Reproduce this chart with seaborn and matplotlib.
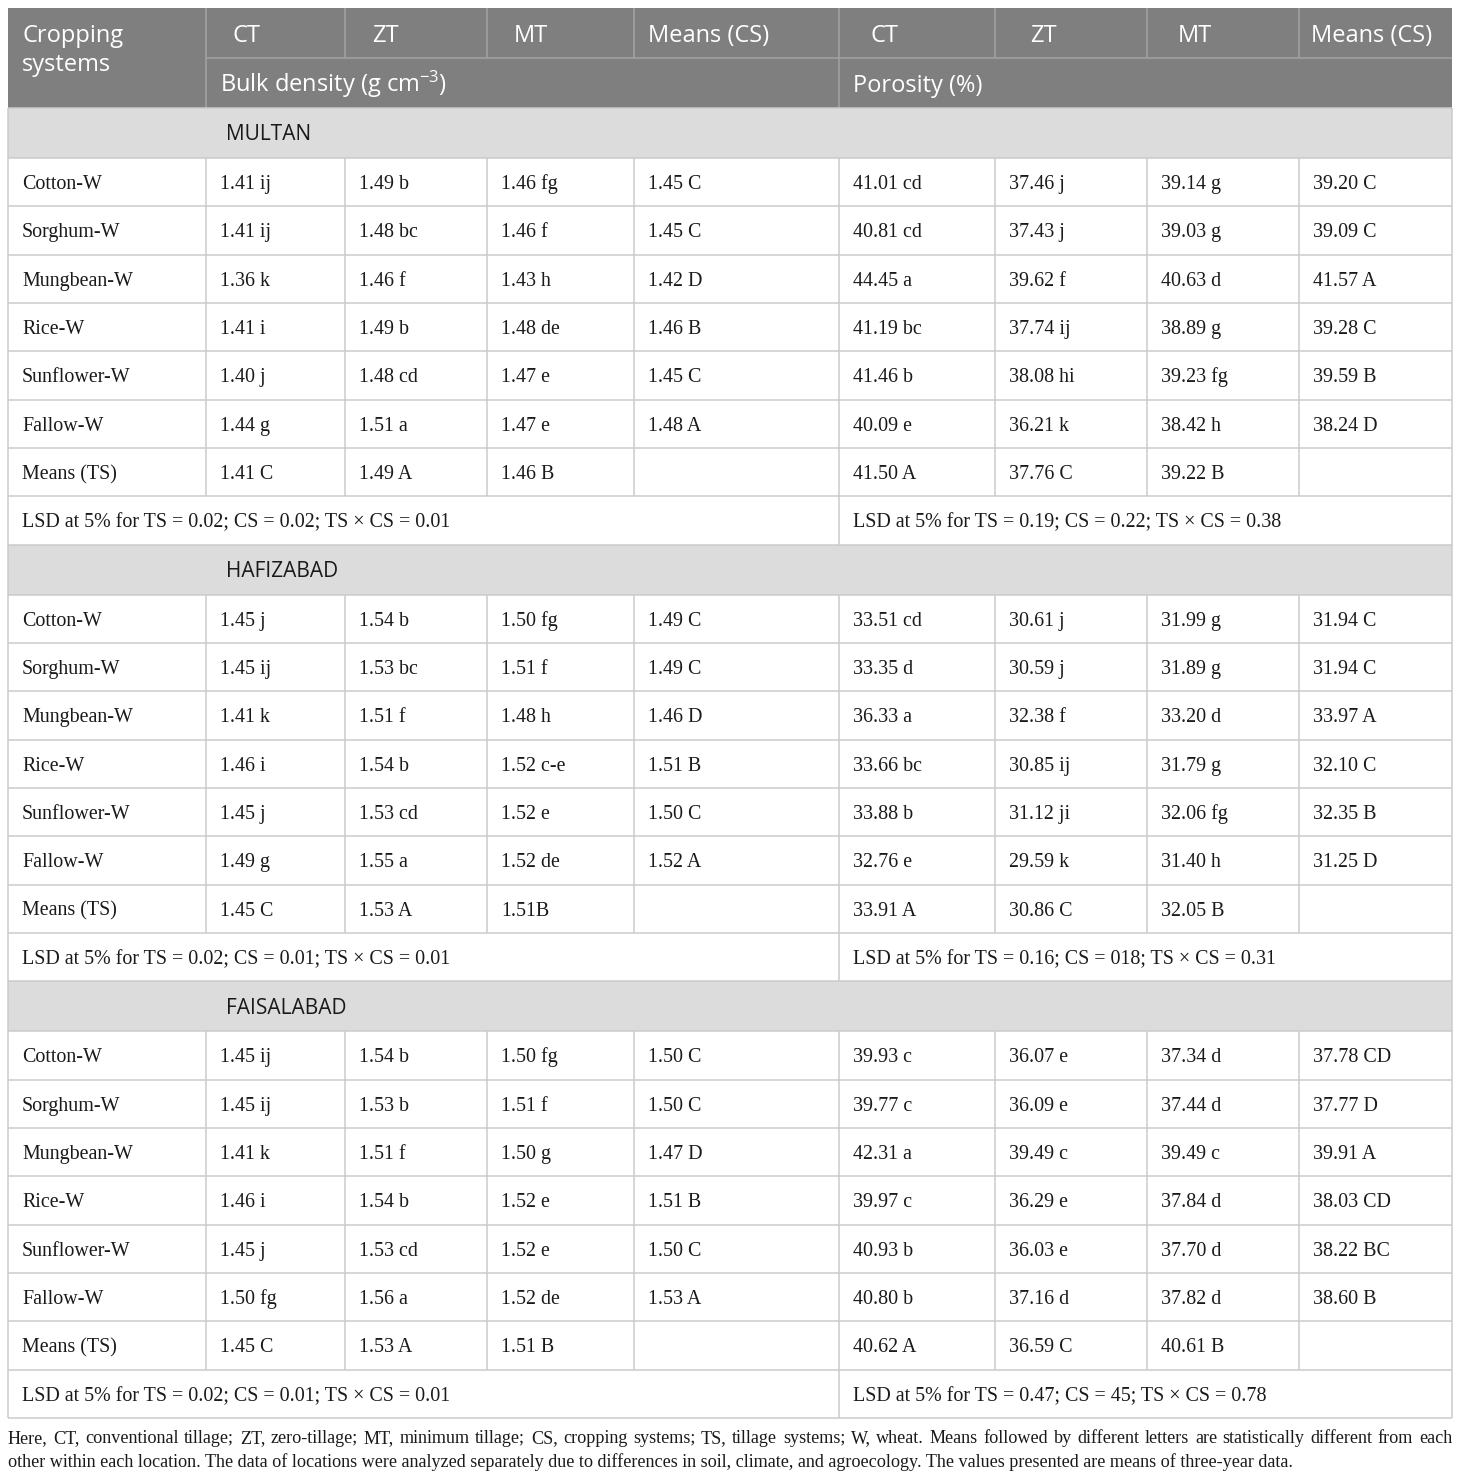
import matplotlib.pyplot as plt
import seaborn as sns
from matplotlib.patches import Rectangle

sns.set_theme(style="white")
plt.rcParams["font.family"] = ["Liberation Serif", "DejaVu Serif"]
plt.rcParams["mathtext.fontset"] = "custom"
plt.rcParams["mathtext.rm"] = "Open Sans"
plt.rcParams["mathtext.default"] = "regular"

# table content
tillage = ["CT", "ZT", "MT", "Means (CS)"]
props = ["Bulk density (g cm$^{\u22123}$)", "Porosity (%)"]
crops = ["Cotton-W", "Sorghum-W", "Mungbean-W", "Rice-W", "Sunflower-W", "Fallow-W", "Means (TS)"]
locations = ["MULTAN", "HAFIZABAD", "FAISALABAD"]

multan_bd = [["1.41 ij", "1.49 b", "1.46 fg", "1.45 C"],
             ["1.41 ij", "1.48 bc", "1.46 f", "1.45 C"],
             ["1.36 k", "1.46 f", "1.43 h", "1.42 D"],
             ["1.41 i", "1.49 b", "1.48 de", "1.46 B"],
             ["1.40 j", "1.48 cd", "1.47 e", "1.45 C"],
             ["1.44 g", "1.51 a", "1.47 e", "1.48 A"],
             ["1.41 C", "1.49 A", "1.46 B", ""]]
multan_por = [["41.01 cd", "37.46 j", "39.14 g", "39.20 C"],
              ["40.81 cd", "37.43 j", "39.03 g", "39.09 C"],
              ["44.45 a", "39.62 f", "40.63 d", "41.57 A"],
              ["41.19 bc", "37.74 ij", "38.89 g", "39.28 C"],
              ["41.46 b", "38.08 hi", "39.23 fg", "39.59 B"],
              ["40.09 e", "36.21 k", "38.42 h", "38.24 D"],
              ["41.50 A", "37.76 C", "39.22 B", ""]]
multan_lsd = ["LSD at 5% for TS = 0.02; CS = 0.02; TS \u00d7 CS = 0.01",
              "LSD at 5% for TS = 0.19; CS = 0.22; TS \u00d7 CS = 0.38"]

hafizabad_bd = [["1.45 j", "1.54 b", "1.50 fg", "1.49 C"],
                ["1.45 ij", "1.53 bc", "1.51 f", "1.49 C"],
                ["1.41 k", "1.51 f", "1.48 h", "1.46 D"],
                ["1.46 i", "1.54 b", "1.52 c-e", "1.51 B"],
                ["1.45 j", "1.53 cd", "1.52 e", "1.50 C"],
                ["1.49 g", "1.55 a", "1.52 de", "1.52 A"],
                ["1.45 C", "1.53 A", "1.51B", ""]]
hafizabad_por = [["33.51 cd", "30.61 j", "31.99 g", "31.94 C"],
                 ["33.35 d", "30.59 j", "31.89 g", "31.94 C"],
                 ["36.33 a", "32.38 f", "33.20 d", "33.97 A"],
                 ["33.66 bc", "30.85 ij", "31.79 g", "32.10 C"],
                 ["33.88 b", "31.12 ji", "32.06 fg", "32.35 B"],
                 ["32.76 e", "29.59 k", "31.40 h", "31.25 D"],
                 ["33.91 A", "30.86 C", "32.05 B", ""]]
hafizabad_lsd = ["LSD at 5% for TS = 0.02; CS = 0.01; TS \u00d7 CS = 0.01",
                 "LSD at 5% for TS = 0.16; CS = 018; TS \u00d7 CS = 0.31"]

faisalabad_bd = [["1.45 ij", "1.54 b", "1.50 fg", "1.50 C"],
                 ["1.45 ij", "1.53 b", "1.51 f", "1.50 C"],
                 ["1.41 k", "1.51 f", "1.50 g", "1.47 D"],
                 ["1.46 i", "1.54 b", "1.52 e", "1.51 B"],
                 ["1.45 j", "1.53 cd", "1.52 e", "1.50 C"],
                 ["1.50 fg", "1.56 a", "1.52 de", "1.53 A"],
                 ["1.45 C", "1.53 A", "1.51 B", ""]]
faisalabad_por = [["39.93 c", "36.07 e", "37.34 d", "37.78 CD"],
                  ["39.77 c", "36.09 e", "37.44 d", "37.77 D"],
                  ["42.31 a", "39.49 c", "39.49 c", "39.91 A"],
                  ["39.97 c", "36.29 e", "37.84 d", "38.03 CD"],
                  ["40.93 b", "36.03 e", "37.70 d", "38.22 BC"],
                  ["40.80 b", "37.16 d", "37.82 d", "38.60 B"],
                  ["40.62 A", "36.59 C", "40.61 B", ""]]
faisalabad_lsd = ["LSD at 5% for TS = 0.02; CS = 0.01; TS \u00d7 CS = 0.01",
                  "LSD at 5% for TS = 0.47; CS = 45; TS \u00d7 CS = 0.78"]

footnote = ("Here, CT, conventional tillage; ZT, zero-tillage; MT, minimum tillage; CS, cropping systems; "
            "TS, tillage systems; W, wheat. Means followed by different letters are statistically different from each",
            "other within each location. The data of locations were analyzed separately due to differences in soil, "
            "climate, and agroecology. The values presented are means of three-year data.")

bd_tables = [multan_bd, hafizabad_bd, faisalabad_bd]
por_tables = [multan_por, hafizabad_por, faisalabad_por]
lsd_rows = [multan_lsd, hafizabad_lsd, faisalabad_lsd]

# layout (pixels)
W, H = 1460, 1480
col_x = [8, 206, 345, 487, 634, 839, 995, 1147, 1299, 1452]
left, right = col_x[0], col_x[-1]
top = 8
h_head = 50
h_sec = 50
h_row = 48.33
head_bg = "#7f7f7f"
head_line = "#a3a3a3"
sec_bg = "#dcdcdc"
grid = "#cbcbcb"
ink = "#1a1a1a"
sans = ["Open Sans", "DejaVu Sans"]
serif_size = 14.4
foot_size = 13.1

fig = plt.figure(figsize=(W / 100, H / 100), dpi=100)
ax = fig.add_axes([0, 0, 1, 1])
ax.set_xlim(0, W)
ax.set_ylim(H, 0)
ax.axis("off")


def hline(y, x0=left, x1=right, c=grid):
    ax.plot([x0, x1], [y, y], color=c, lw=1.1, solid_capstyle="butt")


def vline(x, y0, y1, c=grid):
    ax.plot([x, x], [y0, y1], color=c, lw=1.1, solid_capstyle="butt")


def cell_text(x, y0, h, s):
    # baseline placed so the cap height is centred in the row
    ax.text(x, y0 + h / 2 + 7, s, fontsize=serif_size, color=ink, va="baseline", ha="left")


# header
ax.add_patch(Rectangle((left, top), right - left, 2 * h_head, color=head_bg, lw=0))
y_mid = top + h_head
hline(y_mid, col_x[1], right, head_line)
vline(col_x[1], top, top + 2 * h_head, head_line)
vline(col_x[5], top, top + 2 * h_head, head_line)
for j in [2, 3, 4, 6, 7, 8]:
    vline(col_x[j], top, y_mid, head_line)
ax.text(left + 14, top + 34, "Cropping", family=sans, fontsize=17, color="white", va="baseline")
ax.text(left + 14, top + 63, "systems", family=sans, fontsize=17, color="white", va="baseline")
pads = [26, 27, 27, 14]
pads_r = [31, 35, 31, 12]
for k, lab in enumerate(tillage):
    ax.text(col_x[1 + k] + pads[k], top + 34, lab, family=sans, fontsize=17, color="white", va="baseline")
    ax.text(col_x[5 + k] + pads_r[k], top + 34, lab, family=sans, fontsize=17, color="white", va="baseline")
ax.text(col_x[1] + 14, y_mid + 34, props[0], family=sans, fontsize=17, color="white", va="baseline")
ax.text(col_x[5] + 14, y_mid + 34, props[1], family=sans, fontsize=17, color="white", va="baseline")

# body
y = top + 2 * h_head
for loc, bd, por, lsd in zip(locations, bd_tables, por_tables, lsd_rows):
    ax.add_patch(Rectangle((left, y), right - left, h_sec, color=sec_bg, lw=0))
    hline(y)
    ax.text(226, y + h_sec / 2 + 7.5, loc, family=sans, fontsize=15, color=ink, va="baseline")
    y += h_sec
    for i, crop in enumerate(crops):
        hline(y)
        for j in range(1, 9):
            vline(col_x[j], y, y + h_row)
        cell_text(col_x[0] + 14, y, h_row, crop)
        for k in range(4):
            cell_text(col_x[1 + k] + 14, y, h_row, bd[i][k])
            cell_text(col_x[5 + k] + 14, y, h_row, por[i][k])
        y += h_row
    hline(y)
    vline(col_x[5], y, y + h_row)
    cell_text(col_x[0] + 14, y, h_row, lsd[0])
    cell_text(col_x[5] + 14, y, h_row, lsd[1])
    y += h_row
hline(y)
vline(left, top + 2 * h_head, y)
vline(right, top + 2 * h_head, y)

# footnote: first line justified to the table width
renderer = fig.canvas.get_renderer()
words = footnote[0].split(" ")
texts = [ax.text(0, 1443, w_, fontsize=foot_size, color=ink, va="baseline") for w_ in words]
widths = [t.get_window_extent(renderer).width for t in texts]
gap = (right - left - sum(widths)) / (len(words) - 1)
xpos = left
for t, wd in zip(texts, widths):
    t.set_x(xpos)
    xpos += wd + gap
ax.text(left, 1467, footnote[1], fontsize=foot_size, color=ink, va="baseline")

fig.savefig("out.png", dpi=100)
